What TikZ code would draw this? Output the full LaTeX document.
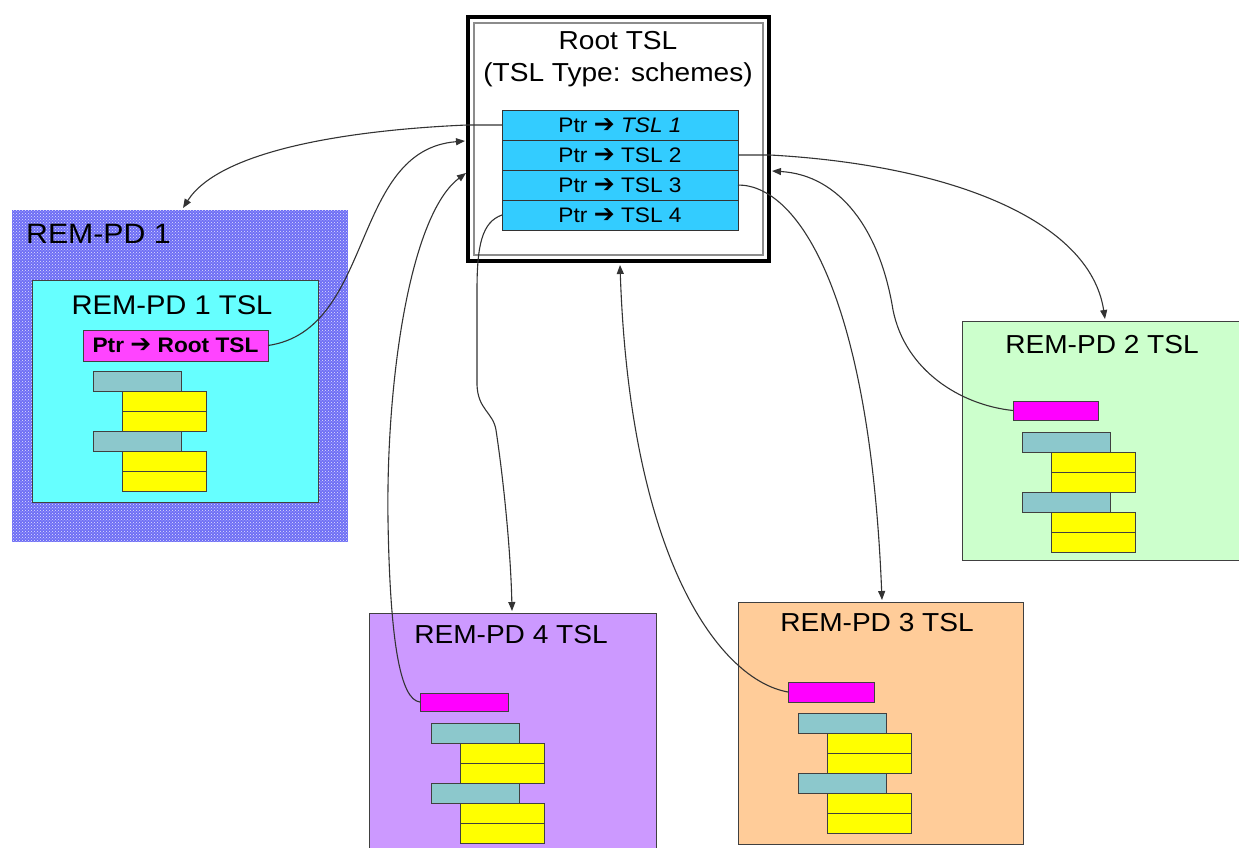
\documentclass[tikz,border=0pt]{standalone}
\usepackage{fontspec}
\setmainfont[FakeStretch=1.08]{Liberation Sans}
\newfontfamily\djv{DejaVu Sans}
\usetikzlibrary{arrows.meta,patterns}
\definecolor{rowc}{HTML}{33CCFF}
\definecolor{pdonein}{HTML}{66FFFF}
\definecolor{pdonebg}{RGB}{110,110,245}
\definecolor{magA}{HTML}{FF44FF}
\definecolor{magB}{HTML}{FF00FF}
\definecolor{tealc}{HTML}{8CC8CC}
\definecolor{yel}{HTML}{FFFF00}
\definecolor{pdtwo}{HTML}{CCFFCC}
\definecolor{pdfour}{HTML}{CC99FF}
\definecolor{pdthree}{HTML}{FFCC99}
\definecolor{edge}{HTML}{404040}
\newcommand\parr{{\djv\bfseries\fontsize{25}{25}\selectfont ➔}}
\newcommand\tslstack[3]{%
 \node[tealb] (#1a) at (#2,#3) {};
 \node[yelb, xshift=29pt, yshift=-20pt] (#1b) at (#2,#3) {};
 \node[yelb, xshift=29pt, yshift=-40pt] (#1c) at (#2,#3) {};
 \node[tealb, yshift=-60pt] (#1d) at (#2,#3) {};
 \node[yelb, xshift=29pt, yshift=-80pt] (#1e) at (#2,#3) {};
 \node[yelb, xshift=29pt, yshift=-100pt] (#1f) at (#2,#3) {};
}
\begin{document}
\begin{tikzpicture}[x=1pt,y=-1pt,
 box/.style={draw=edge, line width=0.9pt, inner sep=0pt, outer sep=0pt, anchor=north west},
 tealb/.style={box, fill=tealc, minimum width=88pt, minimum height=20pt},
 yelb/.style={box, fill=yel, minimum width=84pt, minimum height=20pt},
 row/.style={box, draw=black!80, fill=rowc, minimum width=236pt, minimum height=30pt, font=\fontsize{21}{24}\selectfont},
 ttl/.style={font=\fontsize{26}{30}\selectfont, inner sep=0pt},
 conn/.style={draw=black!80, line width=1.1pt},
 tip/.style={-{Triangle[length=9pt,width=7pt]}},
]
\useasboundingbox (0,0) rectangle (1239,848);

% root box
\node[anchor=north west, draw=black, line width=4pt, fill=white, inner sep=0pt, outer sep=0pt,
      minimum width=301pt, minimum height=244pt] (root) at (468,17) {};
\draw[black!45, line width=1.6pt] ([shift={(6,6)}]root.north west) rectangle ([shift={(-6,-6)}]root.south east);
\node[ttl, align=center, font=\fontsize{26}{32}\selectfont] (roott) at (618,59) {Root TSL\\(TSL Type: schemes)};
\node[row] (t1) at (502,110) {Ptr \parr\ \textit{TSL 1}};
\node[row] (t2) at (502,140) {Ptr \parr\ TSL 2};
\node[row] (t3) at (502,170) {Ptr \parr\ TSL 3};
\node[row] (t4) at (502,200) {Ptr \parr\ TSL 4};

% REM-PD 1
\fill[pdonebg] (12,210) rectangle (348,542);
\fill[pattern=crosshatch dots, pattern color=white!80!pdonebg] (12,210) rectangle (348,542);
\node[ttl, anchor=west, font=\fontsize{28}{32}\selectfont] (pd1l) at (26,234) {REM-PD 1};
\node[box, fill=pdonein, minimum width=286pt, minimum height=222pt] (pd1) at (32,280) {};
\node[ttl, font=\fontsize{27}{30}\selectfont] (pd1t) at (172,305) {REM-PD 1 TSL};
\node[box, fill=magA, minimum width=185pt, minimum height=31pt, font=\fontsize{21}{24}\selectfont\bfseries] (m1) at (83,330) {Ptr \parr\ Root TSL};
\tslstack{sa}{93}{371}

% REM-PD 2
\node[box, fill=pdtwo, minimum width=278pt, minimum height=239pt] (pd2) at (962,321) {};
\node[ttl] (pd2t) at (1102,345) {REM-PD 2 TSL};
\node[box, fill=magB, minimum width=85pt, minimum height=19pt] (m2) at (1013,401) {};
\tslstack{sb}{1022}{432}

% REM-PD 4
\node[box, fill=pdfour, minimum width=287pt, minimum height=237pt] (pd4) at (369,613) {};
\node[ttl] (pd4t) at (511,635) {REM-PD 4 TSL};
\node[box, fill=magB, minimum width=88pt, minimum height=18pt] (m4) at (420,693) {};
\tslstack{sd}{431}{723}

% REM-PD 3
\node[box, fill=pdthree, minimum width=285pt, minimum height=242pt] (pd3) at (738,602) {};
\node[ttl] (pd3t) at (877,623) {REM-PD 3 TSL};
\node[box, fill=magB, minimum width=86pt, minimum height=20pt] (m3) at (788,682) {};
\tslstack{sc}{798}{713}

% arrow end points
\coordinate (a1) at (183,208);
\coordinate (a2) at (465,141);
\coordinate (a3) at (512,611);
\coordinate (a4) at (466,173);
\coordinate (a5) at (1105,319);
\coordinate (a6) at (772,171);
\coordinate (a7) at (882,600);
\coordinate (a8) at (620,265);

% connectors
\draw[conn,tip] (t1.west) -- (467,125) .. controls (350,130) and (220,150) .. (a1);
\draw[conn,tip] (m1.east) .. controls (375,330) and (350,150) .. (a2);
\draw[conn,tip] (t4.west) .. controls (482,222) and (477,245) .. (477,290) -- (477,385)
   .. controls (478,410) and (493,412) .. (496,430) .. controls (505,490) and (511,560) .. (a3);
\draw[conn,tip] (m4.west) .. controls (400,700) and (390,640) .. (388,520)
   .. controls (386,380) and (410,215) .. (a4);
\draw[conn,tip] (t2.east) -- (770,155) .. controls (950,165) and (1090,220) .. (a5);
\draw[conn,tip] (m2.west) .. controls (960,405) and (905,370) .. (893,310)
   .. controls (880,230) and (840,175) .. (a6);
\draw[conn,tip] (t3.east) .. controls (800,185) and (870,300) .. (a7);
\draw[conn,tip] (m3.west) .. controls (720,680) and (630,560) .. (a8);
\end{tikzpicture}
\end{document}
